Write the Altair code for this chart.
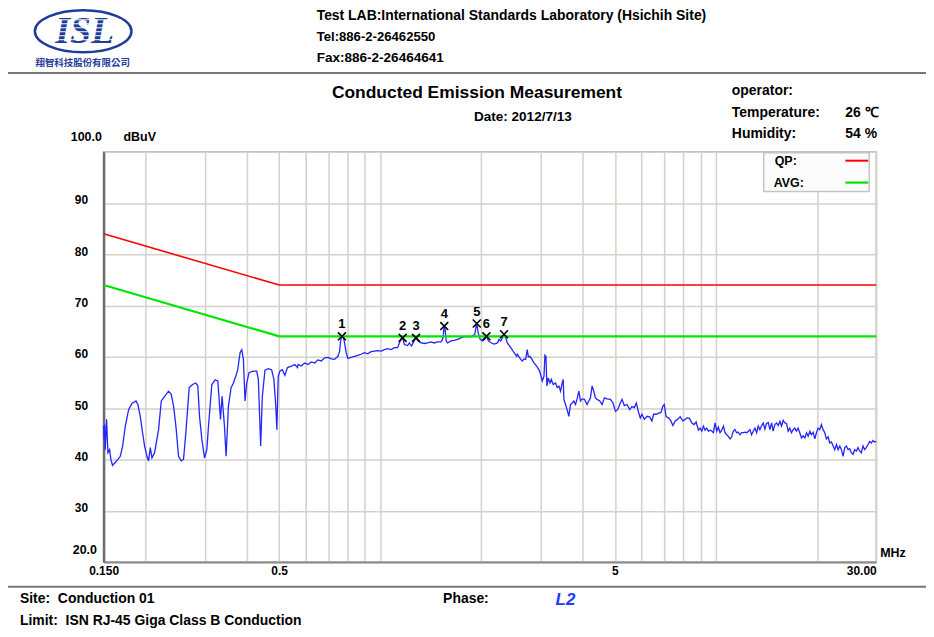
import altair as alt
import pandas as pd

# ---------------- data ----------------
freq_a = [0.1500, 0.1505, 0.1510, 0.1517, 0.1531, 0.1545, 0.1563, 0.1577, 0.1595, 0.1625,
          0.1655, 0.1682, 0.1709, 0.1741, 0.1781, 0.1822, 0.1873, 0.1898, 0.1929, 0.1960,
          0.1987, 0.2019, 0.2042, 0.2066, 0.2090, 0.2128, 0.2187, 0.2228, 0.2279, 0.2342,
          0.2385, 0.2424, 0.2463, 0.2508, 0.2554, 0.2595, 0.2637, 0.2698, 0.2760, 0.2824,
          0.2863, 0.2896, 0.2943, 0.2997, 0.3045, 0.3080, 0.3151, 0.3224, 0.3283, 0.3313,
          0.3343, 0.3381, 0.3436, 0.3475, 0.3531, 0.3596, 0.3654, 0.3713, 0.3764, 0.3825,
          0.3868, 0.3913, 0.3957, 0.4002, 0.4067, 0.4189, 0.4286, 0.4335, 0.4405, 0.4455,
          0.4537, 0.4640, 0.4747, 0.4823, 0.4889, 0.4922, 0.4968, 0.5025, 0.5106, 0.5200,
          0.5294, 0.5441, 0.5567, 0.5670]
level_a = [46.5, 43.9, 46.8, 41.9, 47.8, 41.3, 41.9, 40.0, 38.8, 39.4,
           40.0, 40.6, 42.6, 46.5, 49.7, 50.9, 51.4, 50.7, 48.4, 45.2,
           42.6, 40.6, 39.7, 42.3, 40.3, 41.3, 45.8, 51.4, 52.3, 53.3,
           52.7, 50.4, 46.5, 40.6, 39.7, 40.0, 45.2, 54.0, 54.6, 54.9,
           54.3, 48.4, 43.9, 40.3, 41.9, 46.5, 54.6, 55.5, 55.3, 51.7,
           47.8, 52.3, 46.5, 40.6, 50.4, 54.0, 54.9, 56.2, 57.5, 60.8,
           61.4, 59.5, 51.4, 54.9, 56.9, 57.2, 57.2, 55.6, 42.6, 52.3,
           57.4, 57.7, 57.5, 55.6, 50.1, 45.8, 56.2, 57.2, 57.5, 56.4,
           57.9, 58.2, 58.5, 57.9]

freq_b = [0.569, 0.582, 0.5955, 0.609, 0.623, 0.638, 0.652, 0.6675, 0.683, 0.699,
          0.715, 0.731, 0.748, 0.757, 0.762, 0.769, 0.776, 0.783, 0.792, 0.801,
          0.819, 0.838, 0.858, 0.877, 0.897, 0.918, 0.939, 0.961, 0.983, 1.006,
          1.029, 1.053, 1.077, 1.102, 1.127, 1.140, 1.153, 1.166, 1.180, 1.207,
          1.221, 1.240, 1.263, 1.278, 1.298, 1.322, 1.353, 1.384, 1.416, 1.448,
          1.482, 1.516, 1.533, 1.544, 1.551, 1.561, 1.572, 1.587, 1.624, 1.661,
          1.699, 1.738, 1.779, 1.820, 1.862, 1.896, 1.913, 1.926, 1.939, 1.957,
          1.984, 2.016, 2.048, 2.071, 2.100, 2.144, 2.183, 2.233, 2.259, 2.285,
          2.311, 2.337, 2.364, 2.391, 2.447, 2.504, 2.549]
level_b = [58.5, 58.2, 58.8, 58.5, 59.0, 58.8, 59.4, 59.2, 59.8, 59.9,
           59.6, 59.5, 60.1, 61.1, 63.1, 64.0, 64.0, 62.7, 60.8, 59.7,
           59.9, 60.1, 60.3, 60.5, 60.8, 60.6, 61.0, 61.1, 61.2, 61.1,
           61.4, 61.6, 61.4, 61.8, 61.8, 62.7, 63.5, 63.7, 62.4, 62.2,
           62.7, 62.1, 63.2, 63.7, 63.1, 62.7, 62.6, 62.7, 62.9, 62.7,
           62.9, 62.9, 63.4, 64.7, 66.0, 65.3, 63.1, 62.7, 63.1, 63.2,
           63.4, 63.7, 63.9, 64.0, 63.9, 64.2, 64.4, 65.6, 66.5, 64.7,
           63.4, 63.1, 63.4, 64.0, 63.1, 62.7, 62.5, 62.7, 63.4, 63.1,
           63.7, 64.4, 63.7, 62.7, 61.8, 60.8, 60.1]

freq_c = [2.560, 2.620, 2.649, 2.680, 2.710, 2.741, 2.760, 2.792, 2.837, 2.869,
          2.922, 2.969, 3.003, 3.038, 3.073, 3.094, 3.115, 3.136, 3.165, 3.202,
          3.231, 3.275, 3.328, 3.366, 3.405, 3.443, 3.483, 3.507, 3.523, 3.563,
          3.603, 3.645, 3.687, 3.729, 3.771, 3.815, 3.858, 3.903, 3.948, 3.993,
          4.058, 4.131, 4.179, 4.227, 4.275, 4.324, 4.374, 4.424, 4.506, 4.578,
          4.652, 4.737, 4.847, 4.935, 5.016, 5.096, 5.189, 5.249, 5.333, 5.432,
          5.532, 5.621, 5.712, 5.790, 5.883, 5.951, 6.018, 6.116, 6.228, 6.342,
          6.443, 6.518, 6.638, 6.744, 6.852, 6.948, 7.010, 7.107, 7.221, 7.337,
          7.439, 7.559, 7.679, 7.821, 7.964, 8.093, 8.186, 8.336, 8.471, 8.607,
          8.726]
level_c = [60.5, 59.5, 59.2, 59.6, 59.5, 61.4, 60.0, 60.1, 59.4, 58.8,
           58.2, 57.5, 56.6, 55.3, 56.2, 60.3, 60.1, 54.3, 55.9, 54.9,
           55.6, 54.6, 54.9, 54.0, 54.3, 53.3, 54.9, 55.6, 51.7, 50.7,
           49.7, 48.4, 50.7, 51.0, 51.4, 50.7, 51.8, 53.3, 51.4, 51.8,
           51.7, 50.7, 51.4, 52.0, 54.3, 53.3, 52.0, 51.7, 51.4, 50.7,
           52.0, 51.8, 51.7, 51.0, 49.4, 49.7, 51.0, 51.7, 50.5, 50.7,
           49.7, 50.3, 50.1, 51.0, 49.1, 48.1, 48.8, 47.8, 48.4, 48.3,
           47.5, 48.8, 48.8, 49.0, 49.1, 50.4, 50.7, 48.3, 48.1, 47.5,
           46.6, 47.5, 47.8, 48.3, 47.5, 47.8, 48.1, 48.0, 47.1, 46.8,
           47.3]

freq_d = [8.766, 8.867, 8.969, 9.071, 9.174, 9.279, 9.384, 9.493, 9.645, 9.822,
          9.936, 10.05, 10.16, 10.28, 10.40, 10.52, 10.64, 10.76, 10.88, 11.01,
          11.13, 11.26, 11.39, 11.52, 11.65, 11.79, 11.92, 12.06, 12.20, 12.34,
          12.48, 12.62, 12.76, 12.91, 13.06, 13.21, 13.36, 13.51, 13.67, 13.83,
          13.98, 14.14, 14.31, 14.47, 14.64, 14.80, 14.97, 15.15, 15.32, 15.50,
          15.67, 15.86, 16.03, 16.22, 16.40, 16.59, 16.78, 16.97, 17.17, 17.37,
          17.56, 17.76, 17.97, 18.18, 18.39, 18.60, 18.81, 19.03, 19.24, 19.47,
          19.69, 19.91, 20.14, 20.37, 20.60, 20.84, 21.08, 21.32, 21.57, 21.81,
          22.07, 22.32, 22.58, 22.84, 23.10, 23.37, 23.63, 23.90, 24.18, 24.45,
          24.73, 25.01, 25.29, 25.59, 25.88, 26.18, 26.47, 26.78, 27.08, 27.40,
          27.71, 28.03, 28.35, 28.68, 29.01, 29.34, 29.67, 30.00]
level_d = [46.8, 45.7, 46.1, 45.5, 46.5, 45.7, 46.1, 45.5, 45.7, 45.2,
           47.1, 45.5, 46.3, 45.2, 45.7, 46.5, 45.2, 44.8, 44.5, 44.0,
           44.4, 45.5, 45.8, 45.2, 45.3, 44.8, 45.2, 45.2, 45.3, 45.2,
           45.5, 45.8, 44.8, 45.5, 46.1, 45.2, 46.5, 45.8, 46.6, 47.1,
           45.9, 47.0, 47.2, 45.8, 47.1, 45.5, 46.8, 47.1, 46.6, 47.4,
           46.5, 47.6, 47.1, 47.0, 45.5, 46.1, 45.2, 45.8, 46.1, 45.5,
           46.1, 45.2, 44.2, 44.6, 44.2, 45.2, 44.5, 45.5, 44.8, 45.3,
           44.0, 45.2, 46.1, 45.8, 46.8, 45.8, 45.2, 44.0, 44.4, 43.2,
           43.4, 42.6, 41.9, 42.9, 41.9, 42.6, 41.9, 40.6, 42.3, 42.6,
           41.9, 42.1, 41.3, 41.0, 41.9, 41.6, 42.3, 41.6, 41.3, 42.6,
           41.9, 42.3, 42.9, 43.5, 43.2, 43.7, 43.4, 43.5]

limit_freq = [0.15, 0.5, 30.0]
qp_limit = [84.0, 74.0, 74.0]
avg_limit = [74.0, 64.0, 64.0]

marker_no = ["1", "2", "3", "4", "5", "6", "7"]
marker_freq = [0.769, 1.166, 1.278, 1.551, 1.939, 2.071, 2.337]
marker_level = [64.0, 63.7, 63.7, 66.0, 66.5, 64.0, 64.4]

grid_freqs = [0.15, 0.2, 0.3, 0.4, 0.5, 0.6, 0.7, 0.8, 0.9, 1, 2, 3, 4, 5, 6, 7, 8, 9, 10, 20, 30]
grid_levels = [20, 30, 40, 50, 60, 70, 80, 90, 100]

# ---------------- layout ----------------
FONT = "Liberation Sans, Arial, Helvetica, sans-serif"
OX, OY = 104, 151          # page position of plot origin
W, H = 776, 412
SP = "\u00a0"

trace = pd.DataFrame({"freq": freq_a + freq_b + freq_c + freq_d,
                      "level": level_a + level_b + level_c + level_d})
trace["order"] = range(len(trace))
limits = pd.DataFrame({"freq": limit_freq, "qp": qp_limit, "avg": avg_limit})
markers = pd.DataFrame({"no": marker_no, "freq": marker_freq, "level": marker_level})

x_scale = alt.Scale(type="log", domain=[0.15, 30], nice=False)
y_scale = alt.Scale(domain=[20, 100], nice=False, zero=False)

x_axis = alt.Axis(
    values=grid_freqs, title=None, grid=True, ticks=False,
    gridColor="#d5d1ca", gridWidth=1.5,
    domainColor="#8a8a8a", domainWidth=2,
    labelExpr="datum.value == 0.15 ? '0.150' : datum.value == 0.5 ? '0.5' : datum.value == 5 ? '5' : datum.value == 30 ? '30.00' : ''",
    labelFont=FONT, labelFontSize=12, labelFontWeight="bold", labelColor="black",
    labelPadding=4,
    labelAlign={"condition": {"test": "datum.value >= 29", "value": "right"}, "value": "center"},
)
y_axis = alt.Axis(
    values=grid_levels, title=None, grid=True, ticks=False,
    gridColor="#d5d1ca", gridWidth=1.5,
    domainColor="#6e6e6e", domainWidth=2.5,
    labelExpr="datum.value == 20 || datum.value == 100 ? '' : format(datum.value, 'd')",
    labelFont=FONT, labelFontSize=12, labelFontWeight="bold", labelColor="black",
    labelPadding=16, labelOffset=-3,
)

base_line = alt.Chart(trace).mark_line(color="#2424ff", strokeWidth=1.3).encode(
    x=alt.X("freq:Q", scale=x_scale, axis=x_axis),
    y=alt.Y("level:Q", scale=y_scale, axis=y_axis),
    order="order:Q",
)

qp_line = alt.Chart(limits).mark_line(color="#ff0000", strokeWidth=1.6).encode(
    x=alt.X("freq:Q", scale=x_scale), y=alt.Y("qp:Q", scale=y_scale))
avg_line = alt.Chart(limits).mark_line(color="#00e600", strokeWidth=2.2).encode(
    x=alt.X("freq:Q", scale=x_scale), y=alt.Y("avg:Q", scale=y_scale))

x_path = "M -1 -1 L 1 1 M -1 1 L 1 -1"
marker_x = alt.Chart(markers).mark_point(shape=x_path, filled=False, stroke="black",
                                         strokeWidth=1.6, size=64, opacity=1).encode(
    x=alt.X("freq:Q", scale=x_scale), y=alt.Y("level:Q", scale=y_scale))
marker_t = alt.Chart(markers).mark_text(dy=-12, fontSize=13, fontWeight="bold",
                                        font=FONT, color="black").encode(
    x=alt.X("freq:Q", scale=x_scale), y=alt.Y("level:Q", scale=y_scale), text="no:N")


def label(text, px, py, size=12.5, bold=True, align="left", color="black",
          font=FONT, italic=False, baseline="middle"):
    return alt.Chart(pd.DataFrame({"t": [text]})).mark_text(
        align=align, baseline=baseline, fontSize=size,
        fontWeight="bold" if bold else "normal",
        fontStyle="italic" if italic else "normal",
        color=color, font=font,
    ).encode(x=alt.value(px - OX), y=alt.value(py - OY), text="t:N")


def hline(px1, px2, py, color, width):
    return alt.Chart(pd.DataFrame({"a": [0]})).mark_rule(color=color, strokeWidth=width).encode(
        x=alt.value(px1 - OX), x2=alt.value(px2 - OX), y=alt.value(py - OY))


legend_box = alt.Chart(pd.DataFrame({"a": [0]})).mark_rect(
    fill="#fcfcfc", stroke="#c4c4c4", strokeWidth=1.5).encode(
    x=alt.value(767 - OX), x2=alt.value(873 - OX),
    y=alt.value(152 - OY), y2=alt.value(191 - OY))

ellipse_path = ("M -1 0 C -1 -0.24 -0.552 -0.435 0 -0.435 C 0.552 -0.435 1 -0.24 1 0 "
                "C 1 0.24 0.552 0.435 0 0.435 C -0.552 0.435 -1 0.24 -1 0 Z")
logo_ellipse = alt.Chart(pd.DataFrame({"a": [0]})).mark_point(
    shape=ellipse_path, size=97 * 97, filled=False, stroke="#1f3d98", strokeWidth=2.5,
    opacity=1).encode(x=alt.value(83.5 - OX), y=alt.value(30 - OY))

layers = [base_line, qp_line, avg_line, marker_x, marker_t, legend_box,
          label("QP:", 778, 160, size=12.5), hline(849, 872, 160, "#ff0000", 2),
          label("AVG:", 777, 182, size=12.5), hline(849, 872, 182, "#00e600", 2.2),
          logo_ellipse,
          label("ISL", 85, 42, size=38, italic=True, align="center", baseline="alphabetic",
                color="#1f3d98", font="Liberation Serif, Times New Roman, serif")]
for yy in [18.5, 22.5, 26.5, 30.5, 34.5, 38.5]:
    layers.append(hline(52, 122, yy, "white", 1.0))

layers += [
    label("翔智科技股份有限公司", 83, 62, size=9.5, align="center", color="#1f3d98",
          font="Noto Sans CJK TC, Noto Sans CJK SC, sans-serif"),
    label("Test LAB:International Standards Laboratory (Hsichih Site)", 318, 15, size=14),
    label("Tel:886-2-26462550", 318, 36, size=13.2),
    label("Fax:886-2-26464641", 318, 57, size=13.6),
    hline(8, 930, 72, "#777777", 2),
    label("Conducted Emission Measurement", 479, 92, size=17.5, align="center"),
    label("Date: 2012/7/13", 476, 116, size=13.6),
    label("operator:", 735, 90, size=14),
    label("Temperature:", 735, 112, size=14),
    label("26 ℃", 849, 112, size=14),
    label("Humidity:", 735, 133, size=14),
    label("54 %", 849, 133, size=14),
    label("100.0", 71, 136, size=12.5),
    label("dBuV", 124, 136, size=12.5),
    label("20.0", 73, 551, size=12.5),
    label("MHz", 884, 554, size=12.5),
    hline(8, 930, 588, "#777777", 2),
    label("Site:" + SP + SP + "Conduction 01", 20, 600, size=14),
    label("Phase:", 445, 600, size=14),
    label("L2", 558, 601, size=17, italic=True, color="#1a3cff"),
    label("Limit:" + SP + SP + "ISN RJ-45 Giga Class B Conduction", 20, 622, size=14),
]

chart = alt.layer(*layers).properties(
    width=W, height=H,
    autosize=alt.AutoSizeParams(type="none"),
    padding={"left": OX - 8, "top": OY - 8, "right": 50, "bottom": 66},
    background="white",
).configure_view(stroke="#b4b4b4", strokeWidth=1.5)

chart.save("out.html", embed_options={"renderer": "svg", "actions": False})
